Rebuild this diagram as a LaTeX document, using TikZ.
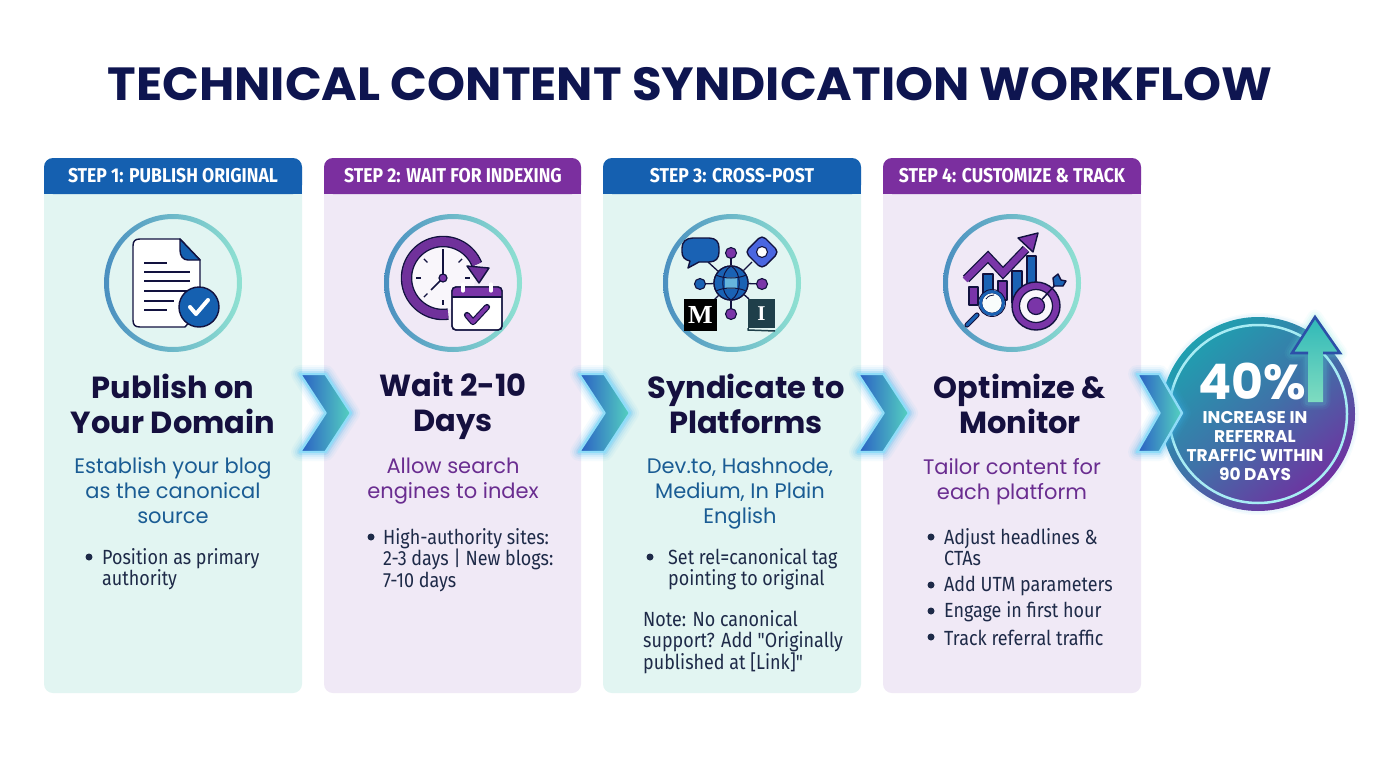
\documentclass[tikz,border=0pt]{standalone}
\usepackage{fontspec}
\usetikzlibrary{arrows.meta,calc}
\setmainfont{Poppins}
\newfontfamily\titlefont[FakeStretch=1.04]{Poppins}
\newfontfamily\hdfont[FakeStretch=0.88]{Fira Sans}
\newfontfamily\bodyfont[FakeStretch=0.875]{Fira Sans}
\definecolor{navy}{HTML}{0E1550}
\definecolor{ink}{HTML}{15103F}
\definecolor{tealbg}{HTML}{E2F5F2}
\definecolor{lavbg}{HTML}{F0E9F6}
\definecolor{hblue}{HTML}{1560B0}
\definecolor{hpurple}{HTML}{7B2F9F}
\definecolor{dblue}{HTML}{1A5C94}
\definecolor{dpurple}{HTML}{6A2D90}
\definecolor{body}{HTML}{1E2A48}
\definecolor{cblue}{HTML}{1A62B4}
\definecolor{cpurple}{HTML}{7A35A8}
\definecolor{outl}{HTML}{12123F}
\definecolor{ringl}{HTML}{4A8FC0}
\definecolor{ringr}{HTML}{90E2D2}
\definecolor{chevl}{HTML}{2A5FC4}
\definecolor{chevr}{HTML}{55D2C0}
\definecolor{chevo}{HTML}{8FDCF8}
\definecolor{glow}{HTML}{3FB4F0}
\definecolor{badget}{HTML}{1FA0B0}
\definecolor{badgem}{HTML}{3F72A8}
\definecolor{badgeb}{HTML}{7030A0}
\definecolor{badger}{HTML}{A8ECF4}
\definecolor{upt}{HTML}{2FB8B8}
\definecolor{upb}{HTML}{7FDCC0}
\definecolor{upo}{HTML}{2C50A8}
\definecolor{diamc}{HTML}{4A66E0}
\definecolor{bookc}{HTML}{1F3F4A}
\definecolor{globec}{HTML}{66B4DC}
\definecolor{uptg}{HTML}{60E8E0}
\def\cw{51}
\def\ch{39}
\tikzset{
  cardbox/.style={rounded corners=9pt,fill=#1},
  headtxt/.style={text=white,font=\hdfont\bfseries\fontsize{20}{22}\selectfont,anchor=center},
  bigtxt/.style={text=ink,font=\bfseries\fontsize{30.5}{35}\selectfont,align=center,anchor=center,inner sep=0pt},
  desctxt/.style={text=#1,font=\fontsize{21}{25}\selectfont,align=center,anchor=center,inner sep=0pt},
  bodytxt/.style={text=body,font=\bodyfont\fontsize{20.5}{21.5}\selectfont,align=left,anchor=west,inner sep=0pt},
  dotb/.style={circle,fill=body,inner sep=0pt,minimum size=7pt},
  ol/.style={draw=outl,line width=1.4pt,line join=round},
  chev/.pic={
    \foreach \w/\o in {18/.05,14/.07,10/.10,6/.18}
      \draw[line width=\w pt,draw=glow,opacity=\o,line join=round]
        (0,-\ch)--(\cw/2,-\ch)--(\cw,0)--(\cw/2,\ch)--(0,\ch)--(\cw/2,0)--cycle;
    \shade[left color=chevl,right color=chevr,line join=round]
        (0,-\ch)--(\cw/2,-\ch)--(\cw,0)--(\cw/2,\ch)--(0,\ch)--(\cw/2,0)--cycle;
    \draw[line width=2.4pt,draw=chevo,line join=round]
        (0,-\ch)--(\cw/2,-\ch)--(\cw,0)--(\cw/2,\ch)--(0,\ch)--(\cw/2,0)--cycle;
  }
}
\begin{document}
\begin{tikzpicture}[x=1pt,y=-1pt]
\useasboundingbox (0,0) rectangle (1376,768);
\fill[white] (0,0) rectangle (1376,768);
\node[text=navy,font=\titlefont\bfseries\fontsize{46.5}{50}\selectfont,inner sep=0pt] (title) at (690,84) {TECHNICAL CONTENT SYNDICATION WORKFLOW};

% cards
\path[cardbox=tealbg] (44,158) rectangle (302,693);
\path[cardbox=lavbg] (324,158) rectangle (581,693);
\path[cardbox=tealbg] (603,158) rectangle (861,693);
\path[cardbox=lavbg] (883,158) rectangle (1141,693);
\fill[hblue,rounded corners=9pt] (44,194) -- (44,158) -- (302,158) -- (302,194) -- cycle;
\fill[hpurple,rounded corners=9pt] (324,194) -- (324,158) -- (581,158) -- (581,194) -- cycle;
\fill[hblue,rounded corners=9pt] (603,194) -- (603,158) -- (861,158) -- (861,194) -- cycle;
\fill[hpurple,rounded corners=9pt] (883,194) -- (883,158) -- (1141,158) -- (1141,194) -- cycle;
\fill[hblue] (44,185) rectangle (302,194);
\fill[hpurple] (324,185) rectangle (581,194);
\fill[hblue] (603,185) rectangle (861,194);
\fill[hpurple] (883,185) rectangle (1141,194);
\node[headtxt] (h1) at (173,176) {STEP 1: PUBLISH ORIGINAL};
\node[headtxt] (h2) at (453,176) {STEP 2: WAIT FOR INDEXING};
\node[headtxt] (h3) at (732,176) {STEP 3: CROSS-POST};
\node[headtxt] (h4) at (1012,176) {STEP 4: CUSTOMIZE \& TRACK};

% rings
\foreach \cx in {173,453,732,1012}{
  \shade[left color=ringl,right color=ringr,even odd rule] (\cx,283) circle (69) circle (64);
}

% icon 1: document
\fill[white,ol] (180,239) -- (140,239) .. controls (135,239) and (133,241) .. (133,246) -- (133,320) .. controls (133,325) and (135,327) .. (140,327) -- (185,327) -- (200,310) -- (200,260) -- cycle;
\fill[hblue,ol] (180,239) -- (200,260) -- (188,260) .. controls (183,260) and (180,256) .. (180,250) -- cycle;
\foreach \ya/\xa in {263/167,272/190,281/190,291/190,301/174,310/167}
  \draw[outl,line width=1.5pt] (144,\ya) -- (\xa,\ya);
\node[circle,fill=hblue,draw=outl,line width=1.4pt,minimum size=40pt,inner sep=0pt] (badge1) at (199,307) {};
\draw[white,line width=4pt,line cap=round,line join=round] (190,307) -- (196,314) -- (208,300);

% icon 2: clock + calendar
\coordinate (ck) at (443,278);
\fill[white!60!lavbg] (ck) circle (32);
\draw[outl,line width=11.5pt] ($(ck)+(82:36.5)$) arc (82:338:36.5);
\draw[cpurple!92!black,line width=8.8pt] ($(ck)+(82:36.5)$) arc (82:338:36.5);
\fill[cpurple!92!black,ol] (467,266) -- (489,268) -- (479,283) -- cycle;
\foreach \a in {0,45,90,135,180,225,270,315}
  \draw[outl,line width=1.3pt] ($(ck)+(\a:22)$) -- ($(ck)+(\a:27)$);
\draw[outl,line width=1.6pt] (ck) -- (443,249);
\draw[outl,line width=1.6pt] (ck) -- (431,290);
\node[circle,fill=cpurple,draw=outl,line width=1.2pt,minimum size=8pt,inner sep=0pt] (hub) at (ck) {};
\fill[white,ol,rounded corners=4pt] (452,287) rectangle (502,330);
\fill[cpurple,rounded corners=4pt] (452,297) -- (452,287) -- (502,287) -- (502,297) -- cycle;
\draw[outl,line width=1.4pt,rounded corners=4pt] (452,287) rectangle (502,330);
\draw[outl,line width=1.2pt] (452,297) -- (502,297);
\foreach \xb in {463,491}
  \draw[white,line width=3.2pt,line cap=round] (\xb,284) -- (\xb,291);
\draw[outl,line width=6.2pt,line join=round,line cap=round] (467,315) -- (473,322) -- (487,307);
\draw[cpurple,line width=3.8pt,line join=round,line cap=round] (467,315) -- (473,322) -- (487,307);

% icon 3: syndication hub
\node[circle,fill=cblue,draw=outl,line width=1.3pt,minimum size=34pt,inner sep=0pt] (globe) at (731,283) {};
\node[circle,fill=cpurple,draw=outl,line width=1.1pt,minimum size=11pt,inner sep=0pt] (dt) at (731,253) {};
\node[circle,fill=cblue,draw=outl,line width=1.1pt,minimum size=11pt,inner sep=0pt] (dl) at (700,284) {};
\node[circle,fill=cpurple,draw=outl,line width=1.1pt,minimum size=11pt,inner sep=0pt] (dr) at (762,284) {};
\node[circle,fill=cpurple,draw=outl,line width=1.1pt,minimum size=11pt,inner sep=0pt] (db) at (731,314) {};
\coordinate (sp) at (708,262);
\coordinate (dm) at (752,262);
\coordinate (mb) at (713,301);
\coordinate (bk) at (749,299);
\foreach \t in {dt,dl,dr,db,sp,dm,mb,bk}
  \draw[outl,line width=1.3pt] (globe) -- (\t);
\node[circle,fill=cblue,draw=outl,line width=1.3pt,minimum size=34pt,inner sep=0pt] at (731,283) {};
\fill[globec] (725,277) rectangle (737,289);
\draw[outl,line width=1pt] (731,266) .. controls (720,272) and (720,294) .. (731,300);
\draw[outl,line width=1pt] (731,266) .. controls (742,272) and (742,294) .. (731,300);
\draw[outl,line width=1pt] (716,275) .. controls (724,279) and (738,279) .. (746,275);
\draw[outl,line width=1pt] (716,291) .. controls (724,287) and (738,287) .. (746,291);
\fill[cblue,ol] (693,238) -- (709,238) .. controls (716,238) and (719,242) .. (719,248) -- (719,252) .. controls (719,258) and (716,262) .. (709,262) -- (699,262) -- (688,268) -- (690,261) .. controls (685,260) and (682,257) .. (682,252) -- (682,248) .. controls (682,242) and (686,238) .. (693,238) -- cycle;
\fill[diamc,ol,rounded corners=5pt] (762,235) -- (779,252) -- (762,269) -- (745,252) -- cycle;
\node[circle,fill=white,draw=outl,line width=1.1pt,minimum size=11pt,inner sep=0pt] (hole) at (762,252) {};
\node[fill=black,minimum width=33pt,minimum height=32pt,inner sep=0pt,text=white,font=\fontspec{Liberation Serif}\bfseries\fontsize{26}{26}\selectfont] (medium) at (700.5,315) {M};
\node[fill=bookc,minimum width=27pt,minimum height=29pt,inner sep=0pt,text=white,font=\fontspec{Liberation Serif}\bfseries\fontsize{21}{21}\selectfont] (book) at (761.5,313.5) {I};
\draw[bookc,line width=1.5pt] (748,328) -- (748,330) -- (775,331);

% icon 4: analytics
\fill[cpurple,ol] (969,287) rectangle (978,305);
\fill[cblue,ol] (983,274) rectangle (993,295);
\fill[cpurple,ol] (998,281) rectangle (1007,300);
\fill[cblue,ol] (1012,271) rectangle (1022,303);
\fill[cblue,ol] (1027,256) rectangle (1036,287);
\draw[outl,line width=9pt,line join=miter] (966,279) -- (988,257) -- (1003,273) -- (1026,249);
\draw[cpurple,line width=6.4pt,line join=miter] (965,280) -- (988,257) -- (1003,273) -- (1026,249);
\fill[cpurple,ol] (1018,238) -- (1038,233) -- (1033,252) -- cycle;
\node[circle,fill=cpurple,draw=outl,line width=1.4pt,minimum size=48pt,inner sep=0pt] (target) at (1036,306) {};
\node[circle,fill=white!60!lavbg,draw=outl,line width=1.2pt,minimum size=33pt,inner sep=0pt] (targetw) at (1036,306) {};
\node[circle,fill=cpurple,draw=outl,line width=1.2pt,minimum size=17pt,inner sep=0pt] (targetc) at (1036,306) {};
\coordinate (tip) at (1056,284);
\draw[outl,line width=1.5pt] (targetc) -- (tip);
\fill[cblue,ol] (1054,286) -- (1053,278) -- (1058,274) -- (1061,280) -- (1066,281) -- (1063,286) -- cycle;
\draw[outl,line width=5.2pt,line cap=round] (977,315) -- (967,325);
\draw[cblue,line width=3pt,line cap=round] (977,315) -- (967,325);
\node[circle,fill=white!80!tealbg,draw=outl,line width=1.3pt,minimum size=21pt,inner sep=0pt] (lens) at (992,303) {};
\draw[cblue,line width=3pt] (992,303) circle (11.5);
\draw[outl,line width=.9pt] (992,303) circle (13.5);
\draw[outl,line width=.8pt] (986,299) .. controls (988,296) and (991,295) .. (994,295);

% text blocks
\node[bigtxt] (t1) at (173,403.5) {Publish on\\Your Domain};
\node[bigtxt] (t2) at (453,406) {Wait 2-10\\Days};
\node[bigtxt] (t3) at (746,403.5) {Syndicate to\\Platforms};
\node[bigtxt] (t4) at (1020,403.5) {Optimize \&\\Monitor};
\node[desctxt=dblue] (d1) at (173,491) {Establish your blog\\as the canonical\\source};
\node[desctxt=dpurple] (d2) at (453,481.5) {Allow search\\engines to index};
\node[desctxt=dblue] (d3) at (740,494) {Dev.to, Hashnode,\\Medium, In Plain\\English};
\node[desctxt=dpurple] (d4) at (1012,481.5) {Tailor content for\\each platform};

\node[dotb] (b11) at (89,557) {};
\node[bodytxt,anchor=north west] (x11) at (102,548) {Position as primary\\authority};
\node[dotb] (b21) at (371,537) {};
\node[bodytxt,anchor=north west] (x21) at (383,528) {High-authority sites:\\2-3 days | New blogs:\\7-10 days};
\node[dotb] (b31) at (650,557) {};
\node[bodytxt,anchor=north west] (x31) at (668,548) {Set rel=canonical tag\\pointing to original};
\node[bodytxt,anchor=north west] (x32) at (643,610) {Note: No canonical\\support? Add "Originally\\published at [Link]"};
\node[dotb] (b41) at (931,537) {};
\node[bodytxt,anchor=north west] (x41) at (944,528) {Adjust headlines \&\\CTAs};
\node[dotb] (b42) at (931,585) {};
\node[bodytxt] (x42) at (944,586) {Add UTM parameters};
\node[dotb] (b43) at (931,611) {};
\node[bodytxt] (x43) at (944,612) {Engage in first hour};
\node[dotb] (b44) at (931,637) {};
\node[bodytxt] (x44) at (944,637.5) {Track referral traffic};

% result badge
\foreach \w/\o in {8/.04,5/.06}
  \draw[glow,line width=\w pt,opacity=\o] (1258,414) circle (97);
\shade[bottom color=badgeb,top color=badget,middle color=badgem,shading angle=40] (1258,414) circle (97);
\draw[badger,line width=2.5pt] (1258,414) circle (89);
\foreach \w/\o in {15/.05,11/.07,7/.12}
  \draw[uptg,line width=\w pt,opacity=\o,line join=round] (1315,317) -- (1340,353) -- (1323,353) -- (1323,402) -- (1308,402) -- (1308,353) -- (1292,353) -- cycle;
\shade[top color=upt,bottom color=upb] (1315,317) -- (1340,353) -- (1323,353) -- (1323,402) -- (1308,402) -- (1308,353) -- (1292,353) -- cycle;
\draw[upo,line width=2.6pt,line join=miter] (1308,353) -- (1292,353) -- (1315,317) -- (1340,353) -- (1323,353);
\node[text=white,font=\bfseries\fontsize{49}{49}\selectfont,inner sep=0pt] (pct) at (1252,382) {40\%};
\node[text=white,font=\bfseries\fontsize{17}{19}\selectfont,align=center,inner sep=0pt] (res) at (1255,446) {INCREASE IN\\REFERRAL\\TRAFFIC WITHIN\\90 DAYS};

\pic (c1) at (300,413) {chev};
\pic (c2) at (579,413) {chev};
\pic (c3) at (858,413) {chev};
\def\cw{45}
\pic (c4) at (1137,413) {chev};
\end{tikzpicture}
\end{document}
